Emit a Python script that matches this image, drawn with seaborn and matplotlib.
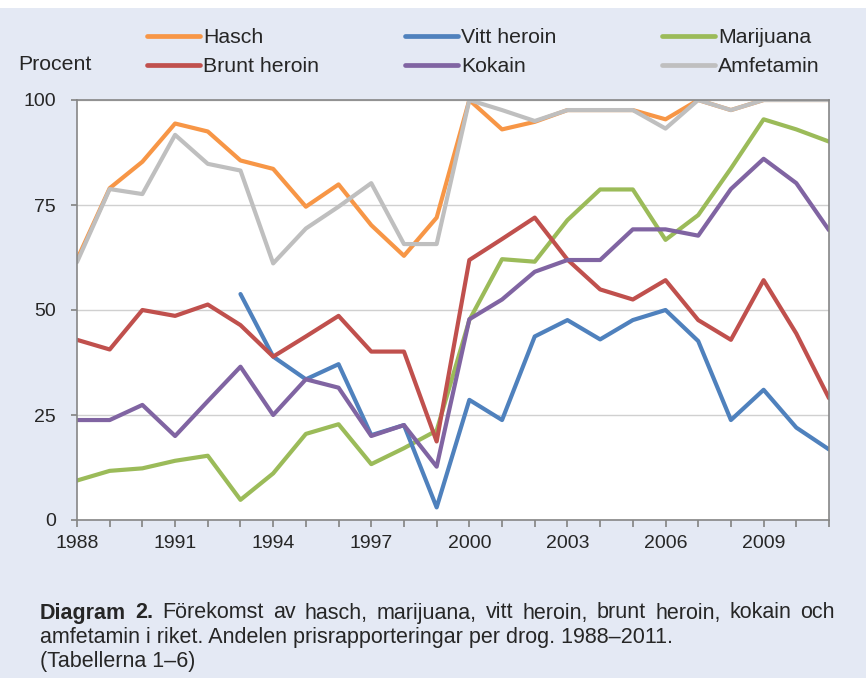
import pandas as pd
import numpy as np

import seaborn as sns
import matplotlib.pyplot as plt
from matplotlib.lines import Line2D
from matplotlib.patches import Rectangle

years = list(range(1988, 2012))

hasch = [62, 79, 85.3, 94.4, 92.5, 85.6, 83.6, 74.6, 79.9, 70.2, 62.9, 72.0,
         100, 93.0, 94.8, 97.6, 97.6, 97.6, 95.4, 100, 97.6, 100, 100, 100]
marijuana = [9.4, 11.7, 12.3, 14.1, 15.3, 4.8, 11.1, 20.5, 22.8, 13.3, 17.1, 21.3,
             47.6, 62.1, 61.5, 71.4, 78.7, 78.7, 66.7, 72.6, 83.7, 95.4, 93.0, 90.1]
vitt_years = list(range(1993, 2012))
vitt_heroin = [53.8, 38.9, 33.5, 37.1, 20.2, 22.6, 3.0,
               28.6, 23.8, 43.7, 47.6, 43.0, 47.6, 50.0, 42.6, 23.8, 31.0, 22.0, 16.8]
brunt_heroin = [42.9, 40.6, 50.0, 48.6, 51.3, 46.4, 38.9, 43.7, 48.6, 40.1, 40.1, 18.7,
                61.9, 66.9, 72.0, 62.0, 54.9, 52.5, 57.1, 47.6, 42.9, 57.1, 44.4, 29.0]
kokain = [23.8, 23.8, 27.4, 20.0, 28.3, 36.5, 25.0, 33.5, 31.5, 20.0, 22.6, 12.7,
          47.8, 52.5, 59.1, 61.9, 61.9, 69.2, 69.2, 67.7, 78.8, 86.0, 80.2, 69.0]
amfetamin = [61.4, 78.8, 77.6, 91.7, 84.8, 83.2, 61.1, 69.4, 74.6, 80.2, 65.7, 65.7,
             100, 97.6, 95.0, 97.6, 97.6, 97.6, 93.2, 100, 97.6, 100, 100, 100]

# draw order (last on top)
draw_order = ["Hasch", "Marijuana", "Vitt heroin", "Brunt heroin", "Kokain", "Amfetamin"]
colors = {
    "Hasch": "#f79646",
    "Vitt heroin": "#4f81bd",
    "Marijuana": "#9bbb59",
    "Brunt heroin": "#c0504d",
    "Kokain": "#8064a2",
    "Amfetamin": "#bfbfbf",
}

frames = [
    pd.DataFrame({"År": years, "Procent": hasch, "Drog": "Hasch"}),
    pd.DataFrame({"År": years, "Procent": marijuana, "Drog": "Marijuana"}),
    pd.DataFrame({"År": vitt_years, "Procent": vitt_heroin, "Drog": "Vitt heroin"}),
    pd.DataFrame({"År": years, "Procent": brunt_heroin, "Drog": "Brunt heroin"}),
    pd.DataFrame({"År": years, "Procent": kokain, "Drog": "Kokain"}),
    pd.DataFrame({"År": years, "Procent": amfetamin, "Drog": "Amfetamin"}),
]
df = pd.concat(frames, ignore_index=True)

sns.set_theme(style="white")
plt.rcParams['font.family'] = ['Liberation Sans', 'DejaVu Sans']

W, H = 866, 678
bg = "#e4e9f4"
fig = plt.figure(figsize=(W / 100, H / 100), dpi=100, facecolor=bg)
fig.patches.append(Rectangle((0, 1 - 8 / H), 1, 8 / H, transform=fig.transFigure,
                             facecolor="white", edgecolor="none", zorder=0))

ax = fig.add_axes([77 / W, 1 - 520 / H, (829 - 77) / W, 420 / H])
ax.set_facecolor("white")

sns.lineplot(data=df, x="År", y="Procent", hue="Drog", hue_order=draw_order,
             palette=colors, linewidth=3.0, legend=False, ax=ax, sort=True)

ax.set_xlim(1988, 2011)
ax.set_ylim(0, 100)
ax.set_xticks(range(1988, 2012))
ax.set_xticklabels([str(y) if (y - 1988) % 3 == 0 else "" for y in range(1988, 2012)])
ax.set_yticks([0, 25, 50, 75, 100])
ax.set_xlabel("")
ax.set_ylabel("")
ax.yaxis.grid(True, color="#d0d0d0", linewidth=1)
ax.set_axisbelow(True)
for s in ax.spines.values():
    s.set_color("#868686")
    s.set_linewidth(1.2)
ax.tick_params(axis="x", length=5, color="#868686", direction="out", pad=6, labelsize=14, bottom=True)
ax.tick_params(axis="y", length=4, color="#868686", direction="out", pad=11, labelsize=14, left=True)

# legend, three columns of two entries
leg_cols = [["Hasch", "Brunt heroin"], ["Vitt heroin", "Kokain"], ["Marijuana", "Amfetamin"]]
leg_x = [147, 405, 662]
for names, x in zip(leg_cols, leg_x):
    handles = [Line2D([0], [0], color=colors[n], linewidth=3.4, solid_capstyle="round") for n in names]
    fig.legend(handles, names, loc="upper left", bbox_to_anchor=(x / W, 1 - 28 / H),
               frameon=False, fontsize=15.3, handlelength=2.5, handletextpad=0.15,
               labelspacing=0.48, borderpad=0, borderaxespad=0)

fig.text(18 / W, 1 - 65 / H, "Procent", fontsize=15.3, va="center", ha="left")

# caption, first line justified between x=40 and x=835
cap_size = 15.5
line1 = [("Diagram", "bold"), ("2.", "bold")] + \
    [(w, "normal") for w in "Förekomst av hasch, marijuana, vitt heroin, brunt heroin, kokain och".split()]
renderer = fig.canvas.get_renderer()
texts = [fig.text(0, 1 - 613 / H, w, fontsize=cap_size, fontweight=fw, va="center", ha="left")
         for w, fw in line1]
widths = [t.get_window_extent(renderer).width for t in texts]
gap = (835 - 40 - sum(widths)) / (len(texts) - 1)
x = 40
for t, wd in zip(texts, widths):
    t.set_x(x / W)
    x += wd + gap

fig.text(40 / W, 1 - 637 / H,
         "amfetamin i riket. Andelen prisrapporteringar per drog. 1988–2011.",
         fontsize=cap_size, va="center", ha="left")
fig.text(40 / W, 1 - 661 / H, "(Tabellerna 1–6)", fontsize=cap_size, va="center", ha="left")

fig.savefig("out.png", dpi=100, facecolor=bg)
